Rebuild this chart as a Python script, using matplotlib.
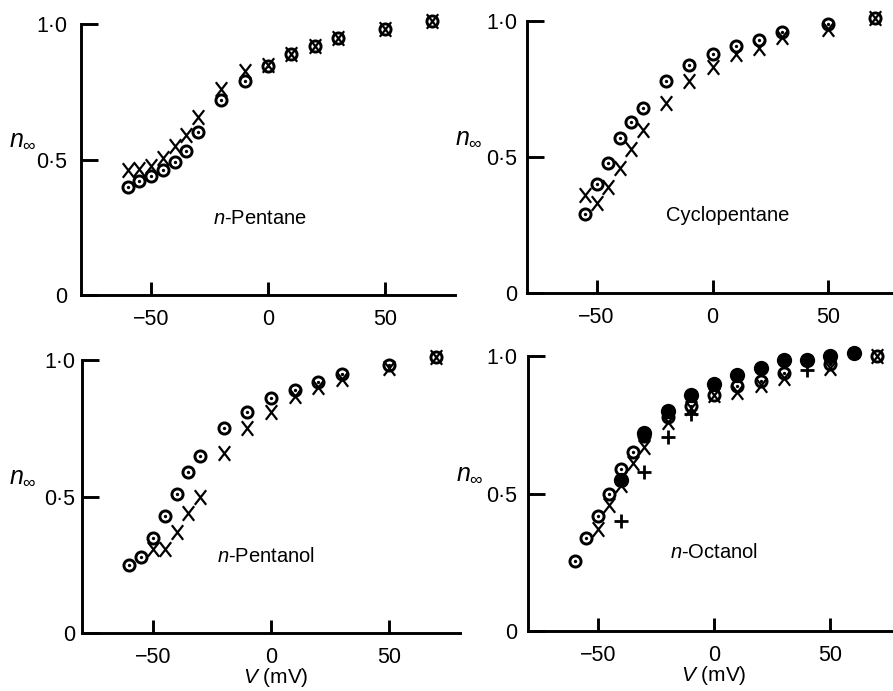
import matplotlib
matplotlib.use('Agg')
import matplotlib.pyplot as plt
from matplotlib.path import Path

plt.rcParams['font.family'] = ['Liberation Sans', 'DejaVu Sans']
plt.rcParams['mathtext.fontset'] = 'custom'
plt.rcParams['mathtext.rm'] = 'Liberation Sans'
plt.rcParams['mathtext.it'] = 'Liberation Sans:italic'
plt.rcParams['mathtext.sf'] = 'Liberation Sans'

# ---------------- data ----------------
# n-Pentane
pent_V = [-60, -55, -50, -45, -40, -35, -30, -20, -10, 0, 10, 20, 30, 50, 70]
pent_circ = [0.40, 0.42, 0.44, 0.46, 0.49, 0.53, 0.60, 0.72, 0.79, 0.845, 0.89, 0.92, 0.95, 0.98, 1.01]
pent_cross = [0.46, 0.465, 0.475, 0.505, 0.55, 0.59, 0.655, 0.76, 0.825, 0.85, 0.89, 0.92, 0.95, 0.98, 1.01]

# Cyclopentane
cyc_V = [-55, -50, -45, -40, -35, -30, -20, -10, 0, 10, 20, 30, 50, 70]
cyc_circ = [0.29, 0.40, 0.48, 0.57, 0.63, 0.68, 0.78, 0.84, 0.88, 0.91, 0.93, 0.96, 0.99, 1.01]
cyc_cross = [0.36, 0.33, 0.39, 0.46, 0.53, 0.60, 0.70, 0.78, 0.83, 0.88, 0.90, 0.94, 0.97, 1.01]

# n-Pentanol
pol_V_circ = [-60, -55, -50, -45, -40, -35, -30, -20, -10, 0, 10, 20, 30, 50, 70]
pol_circ = [0.25, 0.28, 0.35, 0.43, 0.51, 0.59, 0.65, 0.75, 0.81, 0.86, 0.89, 0.92, 0.95, 0.98, 1.01]
pol_V_cross = [-50, -45, -40, -35, -30, -20, -10, 0, 10, 20, 30, 50, 70]
pol_cross = [0.31, 0.31, 0.37, 0.44, 0.50, 0.66, 0.75, 0.81, 0.87, 0.90, 0.93, 0.97, 1.01]

# n-Octanol
oct_V_circ = [-60, -55, -50, -45, -40, -35, -30, -20, -10, 0, 10, 20, 30, 50, 70]
oct_circ = [0.255, 0.34, 0.42, 0.50, 0.59, 0.65, 0.71, 0.78, 0.82, 0.86, 0.89, 0.91, 0.94, 0.97, 1.00]
oct_V_cross = [-50, -45, -40, -35, -30, -20, -10, 0, 10, 20, 30, 50, 70]
oct_cross = [0.37, 0.46, 0.53, 0.61, 0.67, 0.76, 0.81, 0.86, 0.87, 0.895, 0.92, 0.955, 1.00]
oct_V_filled = [-40, -30, -20, -10, 0, 10, 20, 30, 40, 50, 60]
oct_filled = [0.55, 0.72, 0.80, 0.86, 0.90, 0.93, 0.955, 0.985, 0.985, 1.00, 1.01]
oct_V_plus = [-40, -30, -20, -10, 40]
oct_plus = [0.40, 0.58, 0.705, 0.79, 0.95]

panel_names = [r'$n$-Pentane', 'Cyclopentane', r'$n$-Pentanol', r'$n$-Octanol']
name_pos = [(-3.4, 0.262), (6.5, 0.267), (-2.3, 0.262), (0.0, 0.264)]
xtick_vals = [-50, 0, 50]
xtick_labels = ['\u221250', '0', '50']
ytick_vals = [0, 0.5, 1.0]
ytick_labels = ['0', '0\u00b75', '1\u00b70']
ylabel = r'$n_\infty$'
xlabel = r'$V$ (mV)'

# ---------------- figure ----------------
W, H = 893, 691
fig = plt.figure(figsize=(W / 100, H / 100), dpi=100)

# axes in pixel coords: (left, right, y_of_0, y_of_1)
boxes = [(81, 455, 295, 24), (527, 898, 293.3, 21),
         (82, 460, 633.3, 360), (528, 900, 631, 356)]
ypads = [10, 7, 5, 7.5]

cross_path = Path([(-0.78, -1), (0.78, 1), (-0.78, 1), (0.78, -1)],
                  [Path.MOVETO, Path.LINETO, Path.MOVETO, Path.LINETO])

axes = []
for (l, r, y0, y1), yp in zip(boxes, ypads):
    ax = fig.add_axes([l / W, 1 - y0 / H, (r - l) / W, (y0 - y1) / H])
    ax.set_xlim(-80, 80)
    ax.set_ylim(0, 1)
    ax.patch.set_visible(False)
    for s in ['top', 'right']:
        ax.spines[s].set_visible(False)
    for s in ['left', 'bottom']:
        ax.spines[s].set_linewidth(2.1)
    ax.set_xticks(xtick_vals)
    ax.set_xticklabels(xtick_labels)
    ax.set_yticks(ytick_vals)
    ax.set_yticklabels(ytick_labels)
    ax.tick_params(axis='x', direction='in', length=9.5, width=2.1, pad=10, labelsize=15.5)
    ax.tick_params(axis='y', direction='in', length=12.5, width=2.1, pad=yp, labelsize=15.5)
    ax.set_ylabel(ylabel, rotation=0, fontsize=18, ha='center', va='center')
    ax.yaxis.set_label_coords(-0.156, 0.575)
    axes.append(ax)


def circ_dot(ax, x, y):
    ax.plot(x, y, ls='none', marker='o', ms=8, mfc='none', mec='k', mew=2.1, clip_on=False, zorder=3)
    ax.plot(x, y, ls='none', marker='o', ms=2.4, mfc='k', mec='k', mew=0, clip_on=False, zorder=3)


def crosses(ax, x, y):
    ax.plot(x, y, ls='none', marker=cross_path, ms=10.5, mec='k', mew=1.6, clip_on=False, zorder=4)


# panel 1
circ_dot(axes[0], pent_V, pent_circ)
crosses(axes[0], pent_V, pent_cross)
# panel 2
circ_dot(axes[1], cyc_V, cyc_circ)
crosses(axes[1], cyc_V, cyc_cross)
# panel 3
circ_dot(axes[2], pol_V_circ, pol_circ)
crosses(axes[2], pol_V_cross, pol_cross)
# panel 4
circ_dot(axes[3], oct_V_circ, oct_circ)
crosses(axes[3], oct_V_cross, oct_cross)
axes[3].plot(oct_V_plus, oct_plus, ls='none', marker='+', ms=10, mec='k', mew=2.0, clip_on=False, zorder=4)
axes[3].plot(oct_V_filled, oct_filled, ls='none', marker='o', ms=11, mfc='k', mec='k', mew=0, clip_on=False, zorder=5)

for ax, name, (tx, ty) in zip(axes, panel_names, name_pos):
    ax.text(tx, ty, name, ha='center', va='baseline', fontsize=14.5)

axes[2].text(0.513, -0.163, xlabel, transform=axes[2].transAxes, ha='center', va='center', fontsize=15)
axes[3].text(0.5, -0.163, xlabel, transform=axes[3].transAxes, ha='center', va='center', fontsize=15)

fig.savefig('out.png', dpi=100)
